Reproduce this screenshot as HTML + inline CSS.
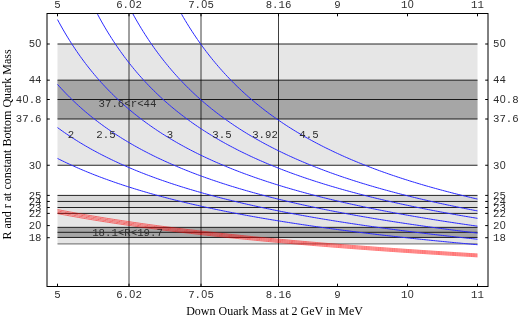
<!DOCTYPE html>
<html><head><meta charset="utf-8"><style>
html,body{margin:0;padding:0;background:#fff;}
svg{display:block}
.m{font-family:"Liberation Mono",monospace;font-size:10.7px;fill:#2e2e2e}
.z{font-family:"Liberation Sans",sans-serif;font-size:10.7px}
.s{font-family:"Liberation Serif",serif;font-size:12px;fill:#000}
</style></head><body>
<svg style="will-change:transform" width="518" height="315" viewBox="0 0 518 315">
<rect width="518" height="315" fill="#fff"/>
<rect x="57.5" y="44.00" width="420.0" height="121.25" fill="#e6e6e6"/>
<rect x="57.5" y="80.15" width="420.0" height="38.85" fill="#a6a6a6"/>
<rect x="57.5" y="195.40" width="420.0" height="48.40" fill="#e5e5e5"/>
<rect x="57.5" y="195.40" width="420.0" height="6.05" fill="#d8d8d8"/>
<rect x="57.5" y="201.45" width="420.0" height="6.05" fill="#dddddd"/>
<rect x="57.5" y="207.50" width="420.0" height="5.90" fill="#e1e1e1"/>
<rect x="57.5" y="227.35" width="420.0" height="10.10" fill="#a6a6a6"/>
<line x1="57.5" x2="477.5" y1="44.00" y2="44.00" stroke="#000" stroke-width="0.85"/>
<line x1="57.5" x2="477.5" y1="80.15" y2="80.15" stroke="#000" stroke-width="0.85"/>
<line x1="57.5" x2="477.5" y1="99.50" y2="99.50" stroke="#000" stroke-width="0.85"/>
<line x1="57.5" x2="477.5" y1="119.00" y2="119.00" stroke="#000" stroke-width="0.85"/>
<line x1="57.5" x2="477.5" y1="165.25" y2="165.25" stroke="#000" stroke-width="0.85"/>
<line x1="57.5" x2="477.5" y1="195.40" y2="195.40" stroke="#000" stroke-width="0.85"/>
<line x1="57.5" x2="477.5" y1="201.45" y2="201.45" stroke="#000" stroke-width="0.85"/>
<line x1="57.5" x2="477.5" y1="207.50" y2="207.50" stroke="#000" stroke-width="0.85"/>
<line x1="57.5" x2="477.5" y1="213.40" y2="213.40" stroke="#000" stroke-width="0.85"/>
<line x1="57.5" x2="477.5" y1="227.35" y2="227.35" stroke="#000" stroke-width="0.85"/>
<line x1="57.5" x2="477.5" y1="232.30" y2="232.30" stroke="#000" stroke-width="0.85"/>
<line x1="57.5" x2="477.5" y1="237.45" y2="237.45" stroke="#000" stroke-width="0.85"/>
<line x1="57.5" x2="477.5" y1="243.80" y2="243.80" stroke="#808080" stroke-width="1.2"/>
<line x1="129.00" x2="129.00" y1="13.5" y2="286.5" stroke="#000" stroke-width="0.75"/>
<line x1="201.00" x2="201.00" y1="13.5" y2="286.5" stroke="#000" stroke-width="0.75"/>
<line x1="278.50" x2="278.50" y1="13.5" y2="286.5" stroke="#000" stroke-width="0.75"/>
<path d="M57.50 158.45 L59.25 159.33 L61.00 160.19 L62.75 161.04 L64.50 161.89 L66.25 162.72 L68.00 163.54 L69.75 164.35 L71.50 165.16 L73.25 165.95 L75.00 166.73 L76.75 167.51 L78.50 168.27 L80.25 169.03 L82.00 169.77 L83.75 170.51 L85.50 171.24 L87.25 171.96 L89.00 172.67 L90.75 173.38 L92.50 174.08 L94.25 174.77 L96.00 175.45 L97.75 176.12 L99.50 176.79 L101.25 177.45 L103.00 178.10 L104.75 178.75 L106.50 179.39 L108.25 180.02 L110.00 180.64 L111.75 181.26 L113.50 181.87 L115.25 182.48 L117.00 183.08 L118.75 183.68 L120.50 184.26 L122.25 184.85 L124.00 185.42 L125.75 185.99 L127.50 186.56 L129.25 187.12 L131.00 187.67 L132.75 188.22 L134.50 188.76 L136.25 189.30 L138.00 189.83 L139.75 190.36 L141.50 190.88 L143.25 191.40 L145.00 191.92 L146.75 192.42 L148.50 192.93 L150.25 193.43 L152.00 193.92 L153.75 194.41 L155.50 194.90 L157.25 195.38 L159.00 195.86 L160.75 196.33 L162.50 196.80 L164.25 197.27 L166.00 197.73 L167.75 198.18 L169.50 198.64 L171.25 199.08 L173.00 199.53 L174.75 199.97 L176.50 200.41 L178.25 200.84 L180.00 201.27 L181.75 201.70 L183.50 202.12 L185.25 202.54 L187.00 202.96 L188.75 203.37 L190.50 203.78 L192.25 204.19 L194.00 204.59 L195.75 204.99 L197.50 205.39 L199.25 205.78 L201.00 206.17 L202.75 206.56 L204.50 206.95 L206.25 207.33 L208.00 207.71 L209.75 208.08 L211.50 208.45 L213.25 208.82 L215.00 209.19 L216.75 209.56 L218.50 209.92 L220.25 210.28 L222.00 210.63 L223.75 210.99 L225.50 211.34 L227.25 211.69 L229.00 212.03 L230.75 212.38 L232.50 212.72 L234.25 213.06 L236.00 213.39 L237.75 213.73 L239.50 214.06 L241.25 214.39 L243.00 214.71 L244.75 215.04 L246.50 215.36 L248.25 215.68 L250.00 216.00 L251.75 216.31 L253.50 216.63 L255.25 216.94 L257.00 217.25 L258.75 217.56 L260.50 217.86 L262.25 218.16 L264.00 218.47 L265.75 218.76 L267.50 219.06 L269.25 219.36 L271.00 219.65 L272.75 219.94 L274.50 220.23 L276.25 220.52 L278.00 220.80 L279.75 221.09 L281.50 221.37 L283.25 221.65 L285.00 221.93 L286.75 222.20 L288.50 222.48 L290.25 222.75 L292.00 223.02 L293.75 223.29 L295.50 223.56 L297.25 223.83 L299.00 224.09 L300.75 224.36 L302.50 224.62 L304.25 224.88 L306.00 225.14 L307.75 225.39 L309.50 225.65 L311.25 225.90 L313.00 226.16 L314.75 226.41 L316.50 226.66 L318.25 226.90 L320.00 227.15 L321.75 227.39 L323.50 227.64 L325.25 227.88 L327.00 228.12 L328.75 228.36 L330.50 228.60 L332.25 228.83 L334.00 229.07 L335.75 229.30 L337.50 229.54 L339.25 229.77 L341.00 230.00 L342.75 230.23 L344.50 230.45 L346.25 230.68 L348.00 230.90 L349.75 231.13 L351.50 231.35 L353.25 231.57 L355.00 231.79 L356.75 232.01 L358.50 232.23 L360.25 232.44 L362.00 232.66 L363.75 232.87 L365.50 233.09 L367.25 233.30 L369.00 233.51 L370.75 233.72 L372.50 233.93 L374.25 234.14 L376.00 234.34 L377.75 234.55 L379.50 234.75 L381.25 234.95 L383.00 235.16 L384.75 235.36 L386.50 235.56 L388.25 235.76 L390.00 235.95 L391.75 236.15 L393.50 236.35 L395.25 236.54 L397.00 236.74 L398.75 236.93 L400.50 237.12 L402.25 237.31 L404.00 237.50 L405.75 237.69 L407.50 237.88 L409.25 238.07 L411.00 238.25 L412.75 238.44 L414.50 238.62 L416.25 238.81 L418.00 238.99 L419.75 239.17 L421.50 239.35 L423.25 239.53 L425.00 239.71 L426.75 239.89 L428.50 240.07 L430.25 240.24 L432.00 240.42 L433.75 240.59 L435.50 240.77 L437.25 240.94 L439.00 241.11 L440.75 241.29 L442.50 241.46 L444.25 241.63 L446.00 241.80 L447.75 241.97 L449.50 242.13 L451.25 242.30 L453.00 242.47 L454.75 242.63 L456.50 242.80 L458.25 242.96 L460.00 243.12 L461.75 243.29 L463.50 243.45 L465.25 243.61 L467.00 243.77 L468.75 243.93 L470.50 244.09 L472.25 244.25 L474.00 244.40 L475.75 244.56 L477.50 244.72" fill="none" stroke="#2a2aff" stroke-width="1"/>
<path d="M57.50 127.59 L59.25 128.86 L61.00 130.12 L62.75 131.36 L64.50 132.58 L66.25 133.78 L68.00 134.96 L69.75 136.12 L71.50 137.27 L73.25 138.40 L75.00 139.52 L76.75 140.62 L78.50 141.70 L80.25 142.77 L82.00 143.82 L83.75 144.86 L85.50 145.89 L87.25 146.90 L89.00 147.90 L90.75 148.88 L92.50 149.86 L94.25 150.81 L96.00 151.76 L97.75 152.69 L99.50 153.62 L101.25 154.53 L103.00 155.43 L104.75 156.31 L106.50 157.19 L108.25 158.06 L110.00 158.91 L111.75 159.76 L113.50 160.59 L115.25 161.42 L117.00 162.23 L118.75 163.04 L120.50 163.83 L122.25 164.62 L124.00 165.40 L125.75 166.16 L127.50 166.92 L129.25 167.67 L131.00 168.42 L132.75 169.15 L134.50 169.88 L136.25 170.59 L138.00 171.30 L139.75 172.01 L141.50 172.70 L143.25 173.39 L145.00 174.07 L146.75 174.74 L148.50 175.41 L150.25 176.06 L152.00 176.72 L153.75 177.36 L155.50 178.00 L157.25 178.63 L159.00 179.26 L160.75 179.87 L162.50 180.49 L164.25 181.09 L166.00 181.69 L167.75 182.29 L169.50 182.88 L171.25 183.46 L173.00 184.04 L174.75 184.61 L176.50 185.17 L178.25 185.73 L180.00 186.29 L181.75 186.84 L183.50 187.38 L185.25 187.92 L187.00 188.46 L188.75 188.99 L190.50 189.51 L192.25 190.03 L194.00 190.55 L195.75 191.06 L197.50 191.57 L199.25 192.07 L201.00 192.56 L202.75 193.06 L204.50 193.55 L206.25 194.03 L208.00 194.51 L209.75 194.99 L211.50 195.46 L213.25 195.93 L215.00 196.39 L216.75 196.85 L218.50 197.30 L220.25 197.76 L222.00 198.20 L223.75 198.65 L225.50 199.09 L227.25 199.53 L229.00 199.96 L230.75 200.39 L232.50 200.82 L234.25 201.24 L236.00 201.66 L237.75 202.08 L239.50 202.49 L241.25 202.90 L243.00 203.31 L244.75 203.71 L246.50 204.11 L248.25 204.51 L250.00 204.90 L251.75 205.29 L253.50 205.68 L255.25 206.07 L257.00 206.45 L258.75 206.83 L260.50 207.20 L262.25 207.58 L264.00 207.95 L265.75 208.32 L267.50 208.68 L269.25 209.04 L271.00 209.40 L272.75 209.76 L274.50 210.12 L276.25 210.47 L278.00 210.82 L279.75 211.17 L281.50 211.51 L283.25 211.85 L285.00 212.19 L286.75 212.53 L288.50 212.86 L290.25 213.20 L292.00 213.53 L293.75 213.86 L295.50 214.18 L297.25 214.51 L299.00 214.83 L300.75 215.15 L302.50 215.46 L304.25 215.78 L306.00 216.09 L307.75 216.40 L309.50 216.71 L311.25 217.02 L313.00 217.32 L314.75 217.63 L316.50 217.93 L318.25 218.23 L320.00 218.52 L321.75 218.82 L323.50 219.11 L325.25 219.40 L327.00 219.69 L328.75 219.98 L330.50 220.26 L332.25 220.55 L334.00 220.83 L335.75 221.11 L337.50 221.39 L339.25 221.66 L341.00 221.94 L342.75 222.21 L344.50 222.48 L346.25 222.75 L348.00 223.02 L349.75 223.29 L351.50 223.55 L353.25 223.82 L355.00 224.08 L356.75 224.34 L358.50 224.60 L360.25 224.86 L362.00 225.11 L363.75 225.37 L365.50 225.62 L367.25 225.87 L369.00 226.12 L370.75 226.37 L372.50 226.61 L374.25 226.86 L376.00 227.10 L377.75 227.35 L379.50 227.59 L381.25 227.83 L383.00 228.07 L384.75 228.30 L386.50 228.54 L388.25 228.77 L390.00 229.01 L391.75 229.24 L393.50 229.47 L395.25 229.70 L397.00 229.93 L398.75 230.15 L400.50 230.38 L402.25 230.60 L404.00 230.83 L405.75 231.05 L407.50 231.27 L409.25 231.49 L411.00 231.71 L412.75 231.92 L414.50 232.14 L416.25 232.36 L418.00 232.57 L419.75 232.78 L421.50 232.99 L423.25 233.20 L425.00 233.41 L426.75 233.62 L428.50 233.83 L430.25 234.03 L432.00 234.24 L433.75 234.44 L435.50 234.65 L437.25 234.85 L439.00 235.05 L440.75 235.25 L442.50 235.45 L444.25 235.65 L446.00 235.84 L447.75 236.04 L449.50 236.23 L451.25 236.43 L453.00 236.62 L454.75 236.81 L456.50 237.00 L458.25 237.19 L460.00 237.38 L461.75 237.57 L463.50 237.76 L465.25 237.94 L467.00 238.13 L468.75 238.31 L470.50 238.50 L472.25 238.68 L474.00 238.86 L475.75 239.04 L477.50 239.22" fill="none" stroke="#2a2aff" stroke-width="1"/>
<path d="M57.50 84.38 L59.25 86.34 L61.00 88.26 L62.75 90.14 L64.50 91.99 L66.25 93.80 L68.00 95.59 L69.75 97.34 L71.50 99.06 L73.25 100.75 L75.00 102.41 L76.75 104.04 L78.50 105.64 L80.25 107.22 L82.00 108.77 L83.75 110.30 L85.50 111.80 L87.25 113.27 L89.00 114.73 L90.75 116.15 L92.50 117.56 L94.25 118.94 L96.00 120.31 L97.75 121.65 L99.50 122.97 L101.25 124.27 L103.00 125.55 L104.75 126.82 L106.50 128.06 L108.25 129.29 L110.00 130.50 L111.75 131.69 L113.50 132.86 L115.25 134.02 L117.00 135.16 L118.75 136.28 L120.50 137.39 L122.25 138.49 L124.00 139.57 L125.75 140.63 L127.50 141.68 L129.25 142.72 L131.00 143.74 L132.75 144.75 L134.50 145.75 L136.25 146.73 L138.00 147.70 L139.75 148.66 L141.50 149.60 L143.25 150.54 L145.00 151.46 L146.75 152.37 L148.50 153.27 L150.25 154.16 L152.00 155.04 L153.75 155.91 L155.50 156.76 L157.25 157.61 L159.00 158.45 L160.75 159.28 L162.50 160.09 L164.25 160.90 L166.00 161.70 L167.75 162.49 L169.50 163.27 L171.25 164.04 L173.00 164.81 L174.75 165.56 L176.50 166.31 L178.25 167.05 L180.00 167.78 L181.75 168.50 L183.50 169.22 L185.25 169.92 L187.00 170.62 L188.75 171.32 L190.50 172.00 L192.25 172.68 L194.00 173.35 L195.75 174.01 L197.50 174.67 L199.25 175.32 L201.00 175.96 L202.75 176.60 L204.50 177.23 L206.25 177.86 L208.00 178.48 L209.75 179.09 L211.50 179.70 L213.25 180.30 L215.00 180.89 L216.75 181.48 L218.50 182.06 L220.25 182.64 L222.00 183.21 L223.75 183.78 L225.50 184.34 L227.25 184.90 L229.00 185.45 L230.75 186.00 L232.50 186.54 L234.25 187.07 L236.00 187.60 L237.75 188.13 L239.50 188.65 L241.25 189.17 L243.00 189.68 L244.75 190.19 L246.50 190.70 L248.25 191.19 L250.00 191.69 L251.75 192.18 L253.50 192.67 L255.25 193.15 L257.00 193.63 L258.75 194.10 L260.50 194.57 L262.25 195.04 L264.00 195.50 L265.75 195.96 L267.50 196.41 L269.25 196.86 L271.00 197.31 L272.75 197.76 L274.50 198.20 L276.25 198.63 L278.00 199.07 L279.75 199.50 L281.50 199.92 L283.25 200.34 L285.00 200.76 L286.75 201.18 L288.50 201.59 L290.25 202.00 L292.00 202.41 L293.75 202.81 L295.50 203.21 L297.25 203.61 L299.00 204.00 L300.75 204.40 L302.50 204.78 L304.25 205.17 L306.00 205.55 L307.75 205.93 L309.50 206.31 L311.25 206.68 L313.00 207.05 L314.75 207.42 L316.50 207.79 L318.25 208.15 L320.00 208.51 L321.75 208.87 L323.50 209.23 L325.25 209.58 L327.00 209.93 L328.75 210.28 L330.50 210.63 L332.25 210.97 L334.00 211.31 L335.75 211.65 L337.50 211.98 L339.25 212.32 L341.00 212.65 L342.75 212.98 L344.50 213.31 L346.25 213.63 L348.00 213.95 L349.75 214.28 L351.50 214.59 L353.25 214.91 L355.00 215.22 L356.75 215.54 L358.50 215.85 L360.25 216.16 L362.00 216.46 L363.75 216.77 L365.50 217.07 L367.25 217.37 L369.00 217.67 L370.75 217.96 L372.50 218.26 L374.25 218.55 L376.00 218.84 L377.75 219.13 L379.50 219.42 L381.25 219.70 L383.00 219.99 L384.75 220.27 L386.50 220.55 L388.25 220.83 L390.00 221.10 L391.75 221.38 L393.50 221.65 L395.25 221.92 L397.00 222.19 L398.75 222.46 L400.50 222.73 L402.25 222.99 L404.00 223.26 L405.75 223.52 L407.50 223.78 L409.25 224.04 L411.00 224.30 L412.75 224.55 L414.50 224.81 L416.25 225.06 L418.00 225.31 L419.75 225.56 L421.50 225.81 L423.25 226.06 L425.00 226.30 L426.75 226.55 L428.50 226.79 L430.25 227.03 L432.00 227.27 L433.75 227.51 L435.50 227.75 L437.25 227.99 L439.00 228.22 L440.75 228.45 L442.50 228.69 L444.25 228.92 L446.00 229.15 L447.75 229.38 L449.50 229.60 L451.25 229.83 L453.00 230.05 L454.75 230.28 L456.50 230.50 L458.25 230.72 L460.00 230.94 L461.75 231.16 L463.50 231.38 L465.25 231.60 L467.00 231.81 L468.75 232.03 L470.50 232.24 L472.25 232.45 L474.00 232.66 L475.75 232.87 L477.50 233.08" fill="none" stroke="#2a2aff" stroke-width="1"/>
<path d="M57.50 19.57 L59.25 22.81 L61.00 25.97 L62.75 29.06 L64.50 32.08 L66.25 35.02 L68.00 37.90 L69.75 40.72 L71.50 43.47 L73.25 46.17 L75.00 48.80 L76.75 51.38 L78.50 53.91 L80.25 56.38 L82.00 58.80 L83.75 61.18 L85.50 63.50 L87.25 65.78 L89.00 68.01 L90.75 70.20 L92.50 72.35 L94.25 74.45 L96.00 76.52 L97.75 78.55 L99.50 80.54 L101.25 82.49 L103.00 84.41 L104.75 86.29 L106.50 88.14 L108.25 89.96 L110.00 91.74 L111.75 93.50 L113.50 95.22 L115.25 96.92 L117.00 98.59 L118.75 100.22 L120.50 101.84 L122.25 103.42 L124.00 104.98 L125.75 106.51 L127.50 108.02 L129.25 109.51 L131.00 110.97 L132.75 112.41 L134.50 113.83 L136.25 115.23 L138.00 116.60 L139.75 117.95 L141.50 119.29 L143.25 120.60 L145.00 121.90 L146.75 123.17 L148.50 124.43 L150.25 125.67 L152.00 126.89 L153.75 128.10 L155.50 129.29 L157.25 130.46 L159.00 131.61 L160.75 132.75 L162.50 133.88 L164.25 134.98 L166.00 136.08 L167.75 137.16 L169.50 138.22 L171.25 139.28 L173.00 140.31 L174.75 141.34 L176.50 142.35 L178.25 143.35 L180.00 144.33 L181.75 145.31 L183.50 146.27 L185.25 147.22 L187.00 148.16 L188.75 149.08 L190.50 150.00 L192.25 150.90 L194.00 151.80 L195.75 152.68 L197.50 153.55 L199.25 154.41 L201.00 155.27 L202.75 156.11 L204.50 156.94 L206.25 157.77 L208.00 158.58 L209.75 159.38 L211.50 160.18 L213.25 160.97 L215.00 161.75 L216.75 162.52 L218.50 163.28 L220.25 164.03 L222.00 164.78 L223.75 165.51 L225.50 166.24 L227.25 166.96 L229.00 167.68 L230.75 168.38 L232.50 169.08 L234.25 169.77 L236.00 170.46 L237.75 171.14 L239.50 171.81 L241.25 172.47 L243.00 173.13 L244.75 173.78 L246.50 174.43 L248.25 175.06 L250.00 175.70 L251.75 176.32 L253.50 176.94 L255.25 177.56 L257.00 178.16 L258.75 178.77 L260.50 179.36 L262.25 179.95 L264.00 180.54 L265.75 181.12 L267.50 181.69 L269.25 182.26 L271.00 182.83 L272.75 183.38 L274.50 183.94 L276.25 184.49 L278.00 185.03 L279.75 185.57 L281.50 186.10 L283.25 186.63 L285.00 187.16 L286.75 187.68 L288.50 188.19 L290.25 188.70 L292.00 189.21 L293.75 189.71 L295.50 190.21 L297.25 190.71 L299.00 191.20 L300.75 191.68 L302.50 192.16 L304.25 192.64 L306.00 193.11 L307.75 193.58 L309.50 194.05 L311.25 194.51 L313.00 194.97 L314.75 195.42 L316.50 195.87 L318.25 196.32 L320.00 196.77 L321.75 197.21 L323.50 197.64 L325.25 198.08 L327.00 198.50 L328.75 198.93 L330.50 199.35 L332.25 199.77 L334.00 200.19 L335.75 200.60 L337.50 201.01 L339.25 201.42 L341.00 201.83 L342.75 202.23 L344.50 202.63 L346.25 203.02 L348.00 203.41 L349.75 203.80 L351.50 204.19 L353.25 204.57 L355.00 204.95 L356.75 205.33 L358.50 205.71 L360.25 206.08 L362.00 206.45 L363.75 206.82 L365.50 207.18 L367.25 207.54 L369.00 207.90 L370.75 208.26 L372.50 208.61 L374.25 208.97 L376.00 209.32 L377.75 209.66 L379.50 210.01 L381.25 210.35 L383.00 210.69 L384.75 211.03 L386.50 211.36 L388.25 211.70 L390.00 212.03 L391.75 212.36 L393.50 212.68 L395.25 213.01 L397.00 213.33 L398.75 213.65 L400.50 213.97 L402.25 214.28 L404.00 214.60 L405.75 214.91 L407.50 215.22 L409.25 215.53 L411.00 215.83 L412.75 216.14 L414.50 216.44 L416.25 216.74 L418.00 217.04 L419.75 217.33 L421.50 217.63 L423.25 217.92 L425.00 218.21 L426.75 218.50 L428.50 218.79 L430.25 219.07 L432.00 219.36 L433.75 219.64 L435.50 219.92 L437.25 220.20 L439.00 220.48 L440.75 220.75 L442.50 221.02 L444.25 221.30 L446.00 221.57 L447.75 221.84 L449.50 222.10 L451.25 222.37 L453.00 222.63 L454.75 222.89 L456.50 223.16 L458.25 223.42 L460.00 223.67 L461.75 223.93 L463.50 224.18 L465.25 224.44 L467.00 224.69 L468.75 224.94 L470.50 225.19 L472.25 225.44 L474.00 225.68 L475.75 225.93 L477.50 226.17" fill="none" stroke="#2a2aff" stroke-width="1"/>
<path d="M97.13 13.50 L97.75 14.67 L99.50 17.90 L101.25 21.05 L103.00 24.13 L104.75 27.14 L106.50 30.08 L108.25 32.96 L110.00 35.77 L111.75 38.53 L113.50 41.22 L115.25 43.86 L117.00 46.45 L118.75 48.98 L120.50 51.46 L122.25 53.89 L124.00 56.28 L125.75 58.61 L127.50 60.90 L129.25 63.15 L131.00 65.35 L132.75 67.52 L134.50 69.64 L136.25 71.72 L138.00 73.77 L139.75 75.77 L141.50 77.74 L143.25 79.68 L145.00 81.58 L146.75 83.45 L148.50 85.29 L150.25 87.10 L152.00 88.87 L153.75 90.61 L155.50 92.33 L157.25 94.02 L159.00 95.68 L160.75 97.31 L162.50 98.92 L164.25 100.50 L166.00 102.06 L167.75 103.59 L169.50 105.10 L171.25 106.58 L173.00 108.04 L174.75 109.48 L176.50 110.90 L178.25 112.30 L180.00 113.67 L181.75 115.03 L183.50 116.37 L185.25 117.68 L187.00 118.98 L188.75 120.26 L190.50 121.52 L192.25 122.77 L194.00 124.00 L195.75 125.21 L197.50 126.40 L199.25 127.58 L201.00 128.74 L202.75 129.88 L204.50 131.01 L206.25 132.13 L208.00 133.23 L209.75 134.32 L211.50 135.39 L213.25 136.45 L215.00 137.50 L216.75 138.53 L218.50 139.55 L220.25 140.55 L222.00 141.55 L223.75 142.53 L225.50 143.50 L227.25 144.46 L229.00 145.41 L230.75 146.34 L232.50 147.27 L234.25 148.18 L236.00 149.08 L237.75 149.97 L239.50 150.86 L241.25 151.73 L243.00 152.59 L244.75 153.44 L246.50 154.28 L248.25 155.12 L250.00 155.94 L251.75 156.75 L253.50 157.56 L255.25 158.36 L257.00 159.15 L258.75 159.93 L260.50 160.70 L262.25 161.46 L264.00 162.21 L265.75 162.96 L267.50 163.70 L269.25 164.43 L271.00 165.16 L272.75 165.87 L274.50 166.58 L276.25 167.28 L278.00 167.98 L279.75 168.67 L281.50 169.35 L283.25 170.02 L285.00 170.69 L286.75 171.35 L288.50 172.00 L290.25 172.65 L292.00 173.29 L293.75 173.93 L295.50 174.56 L297.25 175.18 L299.00 175.80 L300.75 176.41 L302.50 177.02 L304.25 177.62 L306.00 178.21 L307.75 178.80 L309.50 179.38 L311.25 179.96 L313.00 180.54 L314.75 181.10 L316.50 181.67 L318.25 182.23 L320.00 182.78 L321.75 183.33 L323.50 183.87 L325.25 184.41 L327.00 184.94 L328.75 185.47 L330.50 186.00 L332.25 186.52 L334.00 187.03 L335.75 187.54 L337.50 188.05 L339.25 188.55 L341.00 189.05 L342.75 189.55 L344.50 190.04 L346.25 190.52 L348.00 191.00 L349.75 191.48 L351.50 191.96 L353.25 192.43 L355.00 192.89 L356.75 193.36 L358.50 193.82 L360.25 194.27 L362.00 194.72 L363.75 195.17 L365.50 195.62 L367.25 196.06 L369.00 196.50 L370.75 196.93 L372.50 197.36 L374.25 197.79 L376.00 198.22 L377.75 198.64 L379.50 199.05 L381.25 199.47 L383.00 199.88 L384.75 200.29 L386.50 200.70 L388.25 201.10 L390.00 201.50 L391.75 201.90 L393.50 202.29 L395.25 202.68 L397.00 203.07 L398.75 203.46 L400.50 203.84 L402.25 204.22 L404.00 204.60 L405.75 204.97 L407.50 205.34 L409.25 205.71 L411.00 206.08 L412.75 206.44 L414.50 206.80 L416.25 207.16 L418.00 207.52 L419.75 207.87 L421.50 208.23 L423.25 208.58 L425.00 208.92 L426.75 209.27 L428.50 209.61 L430.25 209.95 L432.00 210.29 L433.75 210.62 L435.50 210.96 L437.25 211.29 L439.00 211.62 L440.75 211.94 L442.50 212.27 L444.25 212.59 L446.00 212.91 L447.75 213.23 L449.50 213.54 L451.25 213.86 L453.00 214.17 L454.75 214.48 L456.50 214.79 L458.25 215.10 L460.00 215.40 L461.75 215.70 L463.50 216.00 L465.25 216.30 L467.00 216.60 L468.75 216.89 L470.50 217.19 L472.25 217.48 L474.00 217.77 L475.75 218.06 L477.50 218.34" fill="none" stroke="#2a2aff" stroke-width="1"/>
<path d="M132.64 13.50 L132.75 13.70 L134.50 16.85 L136.25 19.93 L138.00 22.94 L139.75 25.89 L141.50 28.77 L143.25 31.59 L145.00 34.35 L146.75 37.05 L148.50 39.70 L150.25 42.30 L152.00 44.84 L153.75 47.33 L155.50 49.77 L157.25 52.17 L159.00 54.52 L160.75 56.82 L162.50 59.08 L164.25 61.30 L166.00 63.48 L167.75 65.62 L169.50 67.71 L171.25 69.77 L173.00 71.80 L174.75 73.79 L176.50 75.74 L178.25 77.66 L180.00 79.55 L181.75 81.40 L183.50 83.22 L185.25 85.02 L187.00 86.78 L188.75 88.52 L190.50 90.22 L192.25 91.90 L194.00 93.55 L195.75 95.18 L197.50 96.78 L199.25 98.35 L201.00 99.90 L202.75 101.43 L204.50 102.93 L206.25 104.41 L208.00 105.87 L209.75 107.31 L211.50 108.73 L213.25 110.12 L215.00 111.50 L216.75 112.85 L218.50 114.19 L220.25 115.51 L222.00 116.80 L223.75 118.08 L225.50 119.35 L227.25 120.59 L229.00 121.82 L230.75 123.03 L232.50 124.23 L234.25 125.41 L236.00 126.57 L237.75 127.72 L239.50 128.85 L241.25 129.97 L243.00 131.08 L244.75 132.17 L246.50 133.25 L248.25 134.31 L250.00 135.36 L251.75 136.40 L253.50 137.42 L255.25 138.43 L257.00 139.43 L258.75 140.42 L260.50 141.39 L262.25 142.36 L264.00 143.31 L265.75 144.25 L267.50 145.18 L269.25 146.10 L271.00 147.01 L272.75 147.90 L274.50 148.79 L276.25 149.67 L278.00 150.54 L279.75 151.40 L281.50 152.24 L283.25 153.08 L285.00 153.91 L286.75 154.73 L288.50 155.55 L290.25 156.35 L292.00 157.14 L293.75 157.93 L295.50 158.71 L297.25 159.48 L299.00 160.24 L300.75 160.99 L302.50 161.74 L304.25 162.48 L306.00 163.21 L307.75 163.93 L309.50 164.65 L311.25 165.35 L313.00 166.06 L314.75 166.75 L316.50 167.44 L318.25 168.12 L320.00 168.79 L321.75 169.46 L323.50 170.12 L325.25 170.78 L327.00 171.42 L328.75 172.07 L330.50 172.70 L332.25 173.33 L334.00 173.96 L335.75 174.58 L337.50 175.19 L339.25 175.80 L341.00 176.40 L342.75 176.99 L344.50 177.58 L346.25 178.17 L348.00 178.75 L349.75 179.32 L351.50 179.89 L353.25 180.46 L355.00 181.02 L356.75 181.57 L358.50 182.12 L360.25 182.67 L362.00 183.21 L363.75 183.74 L365.50 184.27 L367.25 184.80 L369.00 185.32 L370.75 185.84 L372.50 186.35 L374.25 186.86 L376.00 187.37 L377.75 187.87 L379.50 188.36 L381.25 188.86 L383.00 189.35 L384.75 189.83 L386.50 190.31 L388.25 190.79 L390.00 191.26 L391.75 191.73 L393.50 192.20 L395.25 192.66 L397.00 193.11 L398.75 193.57 L400.50 194.02 L402.25 194.47 L404.00 194.91 L405.75 195.35 L407.50 195.79 L409.25 196.22 L411.00 196.65 L412.75 197.08 L414.50 197.51 L416.25 197.93 L418.00 198.34 L419.75 198.76 L421.50 199.17 L423.25 199.58 L425.00 199.98 L426.75 200.39 L428.50 200.79 L430.25 201.18 L432.00 201.58 L433.75 201.97 L435.50 202.36 L437.25 202.74 L439.00 203.13 L440.75 203.51 L442.50 203.88 L444.25 204.26 L446.00 204.63 L447.75 205.00 L449.50 205.37 L451.25 205.73 L453.00 206.09 L454.75 206.45 L456.50 206.81 L458.25 207.16 L460.00 207.52 L461.75 207.87 L463.50 208.21 L465.25 208.56 L467.00 208.90 L468.75 209.24 L470.50 209.58 L472.25 209.92 L474.00 210.25 L475.75 210.58 L477.50 210.91" fill="none" stroke="#2a2aff" stroke-width="1"/>
<path d="M181.15 13.50 L181.75 14.55 L183.50 17.56 L185.25 20.51 L187.00 23.39 L188.75 26.22 L190.50 28.98 L192.25 31.69 L194.00 34.35 L195.75 36.96 L197.50 39.51 L199.25 42.01 L201.00 44.47 L202.75 46.88 L204.50 49.24 L206.25 51.56 L208.00 53.84 L209.75 56.07 L211.50 58.27 L213.25 60.42 L215.00 62.54 L216.75 64.62 L218.50 66.66 L220.25 68.67 L222.00 70.64 L223.75 72.58 L225.50 74.49 L227.25 76.37 L229.00 78.21 L230.75 80.03 L232.50 81.81 L234.25 83.57 L236.00 85.30 L237.75 87.00 L239.50 88.67 L241.25 90.32 L243.00 91.94 L244.75 93.54 L246.50 95.12 L248.25 96.66 L250.00 98.19 L251.75 99.70 L253.50 101.18 L255.25 102.64 L257.00 104.08 L258.75 105.50 L260.50 106.89 L262.25 108.27 L264.00 109.63 L265.75 110.97 L267.50 112.29 L269.25 113.60 L271.00 114.88 L272.75 116.15 L274.50 117.40 L276.25 118.64 L278.00 119.86 L279.75 121.06 L281.50 122.24 L283.25 123.42 L285.00 124.57 L286.75 125.71 L288.50 126.84 L290.25 127.95 L292.00 129.05 L293.75 130.14 L295.50 131.21 L297.25 132.27 L299.00 133.31 L300.75 134.34 L302.50 135.36 L304.25 136.37 L306.00 137.37 L307.75 138.35 L309.50 139.33 L311.25 140.29 L313.00 141.24 L314.75 142.18 L316.50 143.11 L318.25 144.02 L320.00 144.93 L321.75 145.83 L323.50 146.72 L325.25 147.60 L327.00 148.46 L328.75 149.32 L330.50 150.17 L332.25 151.01 L334.00 151.84 L335.75 152.67 L337.50 153.48 L339.25 154.28 L341.00 155.08 L342.75 155.87 L344.50 156.65 L346.25 157.42 L348.00 158.18 L349.75 158.94 L351.50 159.69 L353.25 160.43 L355.00 161.16 L356.75 161.89 L358.50 162.61 L360.25 163.32 L362.00 164.02 L363.75 164.72 L365.50 165.41 L367.25 166.10 L369.00 166.77 L370.75 167.45 L372.50 168.11 L374.25 168.77 L376.00 169.42 L377.75 170.07 L379.50 170.71 L381.25 171.34 L383.00 171.97 L384.75 172.59 L386.50 173.21 L388.25 173.82 L390.00 174.43 L391.75 175.03 L393.50 175.62 L395.25 176.21 L397.00 176.80 L398.75 177.38 L400.50 177.95 L402.25 178.52 L404.00 179.09 L405.75 179.65 L407.50 180.20 L409.25 180.75 L411.00 181.30 L412.75 181.84 L414.50 182.37 L416.25 182.90 L418.00 183.43 L419.75 183.95 L421.50 184.47 L423.25 184.99 L425.00 185.50 L426.75 186.00 L428.50 186.50 L430.25 187.00 L432.00 187.49 L433.75 187.98 L435.50 188.47 L437.25 188.95 L439.00 189.43 L440.75 189.90 L442.50 190.37 L444.25 190.84 L446.00 191.30 L447.75 191.76 L449.50 192.22 L451.25 192.67 L453.00 193.12 L454.75 193.57 L456.50 194.01 L458.25 194.45 L460.00 194.88 L461.75 195.32 L463.50 195.75 L465.25 196.17 L467.00 196.60 L468.75 197.02 L470.50 197.43 L472.25 197.85 L474.00 198.26 L475.75 198.66 L477.50 199.07" fill="none" stroke="#2a2aff" stroke-width="1"/>
<path d="M57.50 209.60 L59.25 209.93 L61.00 210.27 L62.75 210.61 L64.50 210.94 L66.25 211.27 L68.00 211.59 L69.75 211.92 L71.50 212.24 L73.25 212.56 L75.00 212.88 L76.75 213.20 L78.50 213.51 L80.25 213.82 L82.00 214.13 L83.75 214.44 L85.50 214.74 L87.25 215.04 L89.00 215.34 L90.75 215.64 L92.50 215.94 L94.25 216.23 L96.00 216.52 L97.75 216.81 L99.50 217.10 L101.25 217.39 L103.00 217.67 L104.75 217.96 L106.50 218.24 L108.25 218.52 L110.00 218.79 L111.75 219.07 L113.50 219.34 L115.25 219.61 L117.00 219.88 L118.75 220.15 L120.50 220.42 L122.25 220.68 L124.00 220.95 L125.75 221.21 L127.50 221.47 L129.25 221.73 L131.00 221.98 L132.75 222.24 L134.50 222.49 L136.25 222.74 L138.00 222.99 L139.75 223.24 L141.50 223.49 L143.25 223.73 L145.00 223.98 L146.75 224.22 L148.50 224.46 L150.25 224.70 L152.00 224.94 L153.75 225.18 L155.50 225.41 L157.25 225.65 L159.00 225.88 L160.75 226.11 L162.50 226.34 L164.25 226.57 L166.00 226.80 L167.75 227.03 L169.50 227.25 L171.25 227.48 L173.00 227.70 L174.75 227.92 L176.50 228.14 L178.25 228.36 L180.00 228.58 L181.75 228.79 L183.50 229.01 L185.25 229.22 L187.00 229.44 L188.75 229.65 L190.50 229.86 L192.25 230.07 L194.00 230.27 L195.75 230.48 L197.50 230.69 L199.25 230.89 L201.00 231.10 L202.75 231.30 L204.50 231.50 L206.25 231.70 L208.00 231.90 L209.75 232.10 L211.50 232.30 L213.25 232.49 L215.00 232.69 L216.75 232.88 L218.50 233.08 L220.25 233.27 L222.00 233.46 L223.75 233.65 L225.50 233.84 L227.25 234.03 L229.00 234.22 L230.75 234.40 L232.50 234.59 L234.25 234.77 L236.00 234.96 L237.75 235.14 L239.50 235.32 L241.25 235.50 L243.00 235.68 L244.75 235.86 L246.50 236.04 L248.25 236.22 L250.00 236.40 L251.75 236.57 L253.50 236.75 L255.25 236.92 L257.00 237.09 L258.75 237.27 L260.50 237.44 L262.25 237.61 L264.00 237.78 L265.75 237.95 L267.50 238.12 L269.25 238.28 L271.00 238.45 L272.75 238.62 L274.50 238.78 L276.25 238.95 L278.00 239.11 L279.75 239.27 L281.50 239.44 L283.25 239.60 L285.00 239.76 L286.75 239.92 L288.50 240.08 L290.25 240.24 L292.00 240.40 L293.75 240.55 L295.50 240.71 L297.25 240.86 L299.00 241.02 L300.75 241.17 L302.50 241.33 L304.25 241.48 L306.00 241.63 L307.75 241.79 L309.50 241.94 L311.25 242.09 L313.00 242.24 L314.75 242.39 L316.50 242.53 L318.25 242.68 L320.00 242.83 L321.75 242.98 L323.50 243.12 L325.25 243.27 L327.00 243.41 L328.75 243.56 L330.50 243.70 L332.25 243.84 L334.00 243.98 L335.75 244.13 L337.50 244.27 L339.25 244.41 L341.00 244.55 L342.75 244.69 L344.50 244.83 L346.25 244.96 L348.00 245.10 L349.75 245.24 L351.50 245.37 L353.25 245.51 L355.00 245.65 L356.75 245.78 L358.50 245.91 L360.25 246.05 L362.00 246.18 L363.75 246.31 L365.50 246.45 L367.25 246.58 L369.00 246.71 L370.75 246.84 L372.50 246.97 L374.25 247.10 L376.00 247.23 L377.75 247.36 L379.50 247.48 L381.25 247.61 L383.00 247.74 L384.75 247.87 L386.50 247.99 L388.25 248.12 L390.00 248.24 L391.75 248.37 L393.50 248.49 L395.25 248.61 L397.00 248.74 L398.75 248.86 L400.50 248.98 L402.25 249.10 L404.00 249.23 L405.75 249.35 L407.50 249.47 L409.25 249.59 L411.00 249.71 L412.75 249.82 L414.50 249.94 L416.25 250.06 L418.00 250.18 L419.75 250.30 L421.50 250.41 L423.25 250.53 L425.00 250.65 L426.75 250.76 L428.50 250.88 L430.25 250.99 L432.00 251.11 L433.75 251.22 L435.50 251.33 L437.25 251.45 L439.00 251.56 L440.75 251.67 L442.50 251.78 L444.25 251.89 L446.00 252.00 L447.75 252.12 L449.50 252.23 L451.25 252.34 L453.00 252.44 L454.75 252.55 L456.50 252.66 L458.25 252.77 L460.00 252.88 L461.75 252.99 L463.50 253.09 L465.25 253.20 L467.00 253.31 L468.75 253.41 L470.50 253.52 L472.25 253.62 L474.00 253.73 L475.75 253.83 L477.50 253.94" fill="none" stroke="#ff0000" stroke-width="0.55"/>
<path d="M57.50 210.93 L59.25 211.27 L61.00 211.60 L62.75 211.93 L64.50 212.26 L66.25 212.59 L68.00 212.91 L69.75 213.24 L71.50 213.55 L73.25 213.87 L75.00 214.19 L76.75 214.50 L78.50 214.81 L80.25 215.12 L82.00 215.43 L83.75 215.73 L85.50 216.03 L87.25 216.33 L89.00 216.63 L90.75 216.93 L92.50 217.22 L94.25 217.51 L96.00 217.80 L97.75 218.09 L99.50 218.37 L101.25 218.66 L103.00 218.94 L104.75 219.22 L106.50 219.50 L108.25 219.78 L110.00 220.05 L111.75 220.32 L113.50 220.59 L115.25 220.86 L117.00 221.13 L118.75 221.40 L120.50 221.66 L122.25 221.92 L124.00 222.19 L125.75 222.44 L127.50 222.70 L129.25 222.96 L131.00 223.21 L132.75 223.47 L134.50 223.72 L136.25 223.97 L138.00 224.22 L139.75 224.46 L141.50 224.71 L143.25 224.95 L145.00 225.19 L146.75 225.43 L148.50 225.67 L150.25 225.91 L152.00 226.15 L153.75 226.38 L155.50 226.62 L157.25 226.85 L159.00 227.08 L160.75 227.31 L162.50 227.54 L164.25 227.77 L166.00 227.99 L167.75 228.22 L169.50 228.44 L171.25 228.66 L173.00 228.88 L174.75 229.10 L176.50 229.32 L178.25 229.54 L180.00 229.75 L181.75 229.97 L183.50 230.18 L185.25 230.39 L187.00 230.60 L188.75 230.81 L190.50 231.02 L192.25 231.23 L194.00 231.44 L195.75 231.64 L197.50 231.85 L199.25 232.05 L201.00 232.25 L202.75 232.45 L204.50 232.65 L206.25 232.85 L208.00 233.05 L209.75 233.25 L211.50 233.44 L213.25 233.64 L215.00 233.83 L216.75 234.02 L218.50 234.22 L220.25 234.41 L222.00 234.60 L223.75 234.79 L225.50 234.97 L227.25 235.16 L229.00 235.35 L230.75 235.53 L232.50 235.72 L234.25 235.90 L236.00 236.08 L237.75 236.26 L239.50 236.44 L241.25 236.62 L243.00 236.80 L244.75 236.98 L246.50 237.16 L248.25 237.33 L250.00 237.51 L251.75 237.68 L253.50 237.86 L255.25 238.03 L257.00 238.20 L258.75 238.37 L260.50 238.54 L262.25 238.71 L264.00 238.88 L265.75 239.05 L267.50 239.22 L269.25 239.38 L271.00 239.55 L272.75 239.71 L274.50 239.88 L276.25 240.04 L278.00 240.20 L279.75 240.36 L281.50 240.52 L283.25 240.68 L285.00 240.84 L286.75 241.00 L288.50 241.16 L290.25 241.32 L292.00 241.48 L293.75 241.63 L295.50 241.79 L297.25 241.94 L299.00 242.10 L300.75 242.25 L302.50 242.40 L304.25 242.55 L306.00 242.70 L307.75 242.85 L309.50 243.00 L311.25 243.15 L313.00 243.30 L314.75 243.45 L316.50 243.60 L318.25 243.74 L320.00 243.89 L321.75 244.04 L323.50 244.18 L325.25 244.32 L327.00 244.47 L328.75 244.61 L330.50 244.75 L332.25 244.89 L334.00 245.04 L335.75 245.18 L337.50 245.32 L339.25 245.46 L341.00 245.59 L342.75 245.73 L344.50 245.87 L346.25 246.01 L348.00 246.14 L349.75 246.28 L351.50 246.41 L353.25 246.55 L355.00 246.68 L356.75 246.82 L358.50 246.95 L360.25 247.08 L362.00 247.22 L363.75 247.35 L365.50 247.48 L367.25 247.61 L369.00 247.74 L370.75 247.87 L372.50 248.00 L374.25 248.13 L376.00 248.25 L377.75 248.38 L379.50 248.51 L381.25 248.63 L383.00 248.76 L384.75 248.89 L386.50 249.01 L388.25 249.14 L390.00 249.26 L391.75 249.38 L393.50 249.51 L395.25 249.63 L397.00 249.75 L398.75 249.87 L400.50 249.99 L402.25 250.12 L404.00 250.24 L405.75 250.36 L407.50 250.47 L409.25 250.59 L411.00 250.71 L412.75 250.83 L414.50 250.95 L416.25 251.07 L418.00 251.18 L419.75 251.30 L421.50 251.41 L423.25 251.53 L425.00 251.64 L426.75 251.76 L428.50 251.87 L430.25 251.99 L432.00 252.10 L433.75 252.21 L435.50 252.33 L437.25 252.44 L439.00 252.55 L440.75 252.66 L442.50 252.77 L444.25 252.88 L446.00 252.99 L447.75 253.10 L449.50 253.21 L451.25 253.32 L453.00 253.43 L454.75 253.54 L456.50 253.65 L458.25 253.75 L460.00 253.86 L461.75 253.97 L463.50 254.07 L465.25 254.18 L467.00 254.28 L468.75 254.39 L470.50 254.50 L472.25 254.60 L474.00 254.70 L475.75 254.81 L477.50 254.91" fill="none" stroke="#ff0000" stroke-width="0.55"/>
<path d="M57.50 212.27 L59.25 212.60 L61.00 212.93 L62.75 213.26 L64.50 213.59 L66.25 213.91 L68.00 214.23 L69.75 214.55 L71.50 214.87 L73.25 215.18 L75.00 215.50 L76.75 215.81 L78.50 216.11 L80.25 216.42 L82.00 216.72 L83.75 217.02 L85.50 217.32 L87.25 217.62 L89.00 217.92 L90.75 218.21 L92.50 218.50 L94.25 218.79 L96.00 219.08 L97.75 219.36 L99.50 219.65 L101.25 219.93 L103.00 220.21 L104.75 220.49 L106.50 220.76 L108.25 221.04 L110.00 221.31 L111.75 221.58 L113.50 221.85 L115.25 222.11 L117.00 222.38 L118.75 222.64 L120.50 222.91 L122.25 223.17 L124.00 223.43 L125.75 223.68 L127.50 223.94 L129.25 224.19 L131.00 224.44 L132.75 224.70 L134.50 224.94 L136.25 225.19 L138.00 225.44 L139.75 225.68 L141.50 225.93 L143.25 226.17 L145.00 226.41 L146.75 226.65 L148.50 226.88 L150.25 227.12 L152.00 227.36 L153.75 227.59 L155.50 227.82 L157.25 228.05 L159.00 228.28 L160.75 228.51 L162.50 228.73 L164.25 228.96 L166.00 229.18 L167.75 229.41 L169.50 229.63 L171.25 229.85 L173.00 230.07 L174.75 230.28 L176.50 230.50 L178.25 230.72 L180.00 230.93 L181.75 231.14 L183.50 231.35 L185.25 231.56 L187.00 231.77 L188.75 231.98 L190.50 232.19 L192.25 232.40 L194.00 232.60 L195.75 232.80 L197.50 233.01 L199.25 233.21 L201.00 233.41 L202.75 233.61 L204.50 233.81 L206.25 234.00 L208.00 234.20 L209.75 234.39 L211.50 234.59 L213.25 234.78 L215.00 234.97 L216.75 235.17 L218.50 235.36 L220.25 235.55 L222.00 235.73 L223.75 235.92 L225.50 236.11 L227.25 236.29 L229.00 236.48 L230.75 236.66 L232.50 236.84 L234.25 237.03 L236.00 237.21 L237.75 237.39 L239.50 237.56 L241.25 237.74 L243.00 237.92 L244.75 238.10 L246.50 238.27 L248.25 238.45 L250.00 238.62 L251.75 238.79 L253.50 238.97 L255.25 239.14 L257.00 239.31 L258.75 239.48 L260.50 239.65 L262.25 239.81 L264.00 239.98 L265.75 240.15 L267.50 240.31 L269.25 240.48 L271.00 240.64 L272.75 240.81 L274.50 240.97 L276.25 241.13 L278.00 241.29 L279.75 241.45 L281.50 241.61 L283.25 241.77 L285.00 241.93 L286.75 242.09 L288.50 242.24 L290.25 242.40 L292.00 242.56 L293.75 242.71 L295.50 242.86 L297.25 243.02 L299.00 243.17 L300.75 243.32 L302.50 243.47 L304.25 243.62 L306.00 243.77 L307.75 243.92 L309.50 244.07 L311.25 244.22 L313.00 244.37 L314.75 244.51 L316.50 244.66 L318.25 244.81 L320.00 244.95 L321.75 245.09 L323.50 245.24 L325.25 245.38 L327.00 245.52 L328.75 245.67 L330.50 245.81 L332.25 245.95 L334.00 246.09 L335.75 246.23 L337.50 246.37 L339.25 246.50 L341.00 246.64 L342.75 246.78 L344.50 246.91 L346.25 247.05 L348.00 247.19 L349.75 247.32 L351.50 247.46 L353.25 247.59 L355.00 247.72 L356.75 247.85 L358.50 247.99 L360.25 248.12 L362.00 248.25 L363.75 248.38 L365.50 248.51 L367.25 248.64 L369.00 248.77 L370.75 248.90 L372.50 249.03 L374.25 249.15 L376.00 249.28 L377.75 249.41 L379.50 249.53 L381.25 249.66 L383.00 249.78 L384.75 249.91 L386.50 250.03 L388.25 250.15 L390.00 250.28 L391.75 250.40 L393.50 250.52 L395.25 250.64 L397.00 250.77 L398.75 250.89 L400.50 251.01 L402.25 251.13 L404.00 251.25 L405.75 251.36 L407.50 251.48 L409.25 251.60 L411.00 251.72 L412.75 251.84 L414.50 251.95 L416.25 252.07 L418.00 252.18 L419.75 252.30 L421.50 252.41 L423.25 252.53 L425.00 252.64 L426.75 252.76 L428.50 252.87 L430.25 252.98 L432.00 253.10 L433.75 253.21 L435.50 253.32 L437.25 253.43 L439.00 253.54 L440.75 253.65 L442.50 253.76 L444.25 253.87 L446.00 253.98 L447.75 254.09 L449.50 254.20 L451.25 254.31 L453.00 254.41 L454.75 254.52 L456.50 254.63 L458.25 254.74 L460.00 254.84 L461.75 254.95 L463.50 255.05 L465.25 255.16 L467.00 255.26 L468.75 255.37 L470.50 255.47 L472.25 255.58 L474.00 255.68 L475.75 255.78 L477.50 255.88" fill="none" stroke="#ff0000" stroke-width="0.55"/>
<path d="M57.50 213.60 L59.25 213.93 L61.00 214.26 L62.75 214.59 L64.50 214.91 L66.25 215.23 L68.00 215.55 L69.75 215.87 L71.50 216.18 L73.25 216.49 L75.00 216.80 L76.75 217.11 L78.50 217.42 L80.25 217.72 L82.00 218.02 L83.75 218.32 L85.50 218.62 L87.25 218.91 L89.00 219.20 L90.75 219.49 L92.50 219.78 L94.25 220.07 L96.00 220.35 L97.75 220.64 L99.50 220.92 L101.25 221.20 L103.00 221.47 L104.75 221.75 L106.50 222.02 L108.25 222.30 L110.00 222.57 L111.75 222.83 L113.50 223.10 L115.25 223.37 L117.00 223.63 L118.75 223.89 L120.50 224.15 L122.25 224.41 L124.00 224.67 L125.75 224.92 L127.50 225.17 L129.25 225.43 L131.00 225.68 L132.75 225.92 L134.50 226.17 L136.25 226.42 L138.00 226.66 L139.75 226.90 L141.50 227.14 L143.25 227.38 L145.00 227.62 L146.75 227.86 L148.50 228.10 L150.25 228.33 L152.00 228.56 L153.75 228.79 L155.50 229.02 L157.25 229.25 L159.00 229.48 L160.75 229.70 L162.50 229.93 L164.25 230.15 L166.00 230.37 L167.75 230.60 L169.50 230.81 L171.25 231.03 L173.00 231.25 L174.75 231.47 L176.50 231.68 L178.25 231.89 L180.00 232.11 L181.75 232.32 L183.50 232.53 L185.25 232.74 L187.00 232.94 L188.75 233.15 L190.50 233.36 L192.25 233.56 L194.00 233.76 L195.75 233.96 L197.50 234.17 L199.25 234.37 L201.00 234.56 L202.75 234.76 L204.50 234.96 L206.25 235.15 L208.00 235.35 L209.75 235.54 L211.50 235.74 L213.25 235.93 L215.00 236.12 L216.75 236.31 L218.50 236.50 L220.25 236.68 L222.00 236.87 L223.75 237.06 L225.50 237.24 L227.25 237.42 L229.00 237.61 L230.75 237.79 L232.50 237.97 L234.25 238.15 L236.00 238.33 L237.75 238.51 L239.50 238.69 L241.25 238.86 L243.00 239.04 L244.75 239.21 L246.50 239.39 L248.25 239.56 L250.00 239.73 L251.75 239.90 L253.50 240.08 L255.25 240.25 L257.00 240.41 L258.75 240.58 L260.50 240.75 L262.25 240.92 L264.00 241.08 L265.75 241.25 L267.50 241.41 L269.25 241.58 L271.00 241.74 L272.75 241.90 L274.50 242.06 L276.25 242.22 L278.00 242.38 L279.75 242.54 L281.50 242.70 L283.25 242.86 L285.00 243.01 L286.75 243.17 L288.50 243.33 L290.25 243.48 L292.00 243.64 L293.75 243.79 L295.50 243.94 L297.25 244.09 L299.00 244.25 L300.75 244.40 L302.50 244.55 L304.25 244.70 L306.00 244.84 L307.75 244.99 L309.50 245.14 L311.25 245.29 L313.00 245.43 L314.75 245.58 L316.50 245.72 L318.25 245.87 L320.00 246.01 L321.75 246.15 L323.50 246.30 L325.25 246.44 L327.00 246.58 L328.75 246.72 L330.50 246.86 L332.25 247.00 L334.00 247.14 L335.75 247.28 L337.50 247.41 L339.25 247.55 L341.00 247.69 L342.75 247.82 L344.50 247.96 L346.25 248.09 L348.00 248.23 L349.75 248.36 L351.50 248.50 L353.25 248.63 L355.00 248.76 L356.75 248.89 L358.50 249.02 L360.25 249.15 L362.00 249.28 L363.75 249.41 L365.50 249.54 L367.25 249.67 L369.00 249.80 L370.75 249.93 L372.50 250.05 L374.25 250.18 L376.00 250.31 L377.75 250.43 L379.50 250.56 L381.25 250.68 L383.00 250.80 L384.75 250.93 L386.50 251.05 L388.25 251.17 L390.00 251.30 L391.75 251.42 L393.50 251.54 L395.25 251.66 L397.00 251.78 L398.75 251.90 L400.50 252.02 L402.25 252.14 L404.00 252.26 L405.75 252.37 L407.50 252.49 L409.25 252.61 L411.00 252.72 L412.75 252.84 L414.50 252.96 L416.25 253.07 L418.00 253.19 L419.75 253.30 L421.50 253.42 L423.25 253.53 L425.00 253.64 L426.75 253.76 L428.50 253.87 L430.25 253.98 L432.00 254.09 L433.75 254.20 L435.50 254.31 L437.25 254.42 L439.00 254.53 L440.75 254.64 L442.50 254.75 L444.25 254.86 L446.00 254.97 L447.75 255.08 L449.50 255.19 L451.25 255.29 L453.00 255.40 L454.75 255.51 L456.50 255.61 L458.25 255.72 L460.00 255.82 L461.75 255.93 L463.50 256.03 L465.25 256.14 L467.00 256.24 L468.75 256.34 L470.50 256.45 L472.25 256.55 L474.00 256.65 L475.75 256.76 L477.50 256.86" fill="none" stroke="#ff0000" stroke-width="0.55"/>
<rect x="47.0" y="13.5" width="441.0" height="273.0" fill="none" stroke="#000" stroke-width="1"/>
<line x1="57.50" x2="57.50" y1="13.5" y2="16.3" stroke="#000"/>
<line x1="57.50" x2="57.50" y1="286.5" y2="283.7" stroke="#000"/>
<text class="m" y="7.90"><tspan x="54.29">5</tspan></text>
<text class="m" y="298.40"><tspan x="54.29">5</tspan></text>
<line x1="129.00" x2="129.00" y1="13.5" y2="16.3" stroke="#000"/>
<line x1="129.00" x2="129.00" y1="286.5" y2="283.7" stroke="#000"/>
<text class="m" y="7.90"><tspan x="116.16">6</tspan><tspan x="122.58">.</tspan><tspan class="z" x="129.24">0</tspan><tspan x="135.42">2</tspan></text>
<text class="m" y="298.40"><tspan x="116.16">6</tspan><tspan x="122.58">.</tspan><tspan class="z" x="129.24">0</tspan><tspan x="135.42">2</tspan></text>
<line x1="201.00" x2="201.00" y1="13.5" y2="16.3" stroke="#000"/>
<line x1="201.00" x2="201.00" y1="286.5" y2="283.7" stroke="#000"/>
<text class="m" y="7.90"><tspan x="188.16">7</tspan><tspan x="194.58">.</tspan><tspan class="z" x="201.24">0</tspan><tspan x="207.42">5</tspan></text>
<text class="m" y="298.40"><tspan x="188.16">7</tspan><tspan x="194.58">.</tspan><tspan class="z" x="201.24">0</tspan><tspan x="207.42">5</tspan></text>
<line x1="278.50" x2="278.50" y1="13.5" y2="16.3" stroke="#000"/>
<line x1="278.50" x2="278.50" y1="286.5" y2="283.7" stroke="#000"/>
<text class="m" y="7.90"><tspan x="265.66">8</tspan><tspan x="272.08">.</tspan><tspan x="278.50">1</tspan><tspan x="284.92">6</tspan></text>
<text class="m" y="298.40"><tspan x="265.66">8</tspan><tspan x="272.08">.</tspan><tspan x="278.50">1</tspan><tspan x="284.92">6</tspan></text>
<line x1="337.50" x2="337.50" y1="13.5" y2="16.3" stroke="#000"/>
<line x1="337.50" x2="337.50" y1="286.5" y2="283.7" stroke="#000"/>
<text class="m" y="7.90"><tspan x="334.29">9</tspan></text>
<text class="m" y="298.40"><tspan x="334.29">9</tspan></text>
<line x1="407.50" x2="407.50" y1="13.5" y2="16.3" stroke="#000"/>
<line x1="407.50" x2="407.50" y1="286.5" y2="283.7" stroke="#000"/>
<text class="m" y="7.90"><tspan x="401.08">1</tspan><tspan class="z" x="407.74">0</tspan></text>
<text class="m" y="298.40"><tspan x="401.08">1</tspan><tspan class="z" x="407.74">0</tspan></text>
<line x1="477.50" x2="477.50" y1="13.5" y2="16.3" stroke="#000"/>
<line x1="477.50" x2="477.50" y1="286.5" y2="283.7" stroke="#000"/>
<text class="m" y="7.90"><tspan x="471.08">1</tspan><tspan x="477.50">1</tspan></text>
<text class="m" y="298.40"><tspan x="471.08">1</tspan><tspan x="477.50">1</tspan></text>
<line x1="47.0" x2="49.8" y1="44.00" y2="44.00" stroke="#000"/>
<line x1="488.0" x2="485.2" y1="44.00" y2="44.00" stroke="#000"/>
<text class="m" y="47.30"><tspan x="28.66">5</tspan><tspan class="z" x="35.32">0</tspan></text>
<text class="m" y="47.30"><tspan x="493.00">5</tspan><tspan class="z" x="499.66">0</tspan></text>
<line x1="47.0" x2="49.8" y1="80.15" y2="80.15" stroke="#000"/>
<line x1="488.0" x2="485.2" y1="80.15" y2="80.15" stroke="#000"/>
<text class="m" y="83.45"><tspan x="28.66">4</tspan><tspan x="35.08">4</tspan></text>
<text class="m" y="83.45"><tspan x="493.00">4</tspan><tspan x="499.42">4</tspan></text>
<line x1="47.0" x2="49.8" y1="99.50" y2="99.50" stroke="#000"/>
<line x1="488.0" x2="485.2" y1="99.50" y2="99.50" stroke="#000"/>
<text class="m" y="102.80"><tspan x="15.82">4</tspan><tspan class="z" x="22.48">0</tspan><tspan x="28.66">.</tspan><tspan x="35.08">8</tspan></text>
<text class="m" y="102.80"><tspan x="493.00">4</tspan><tspan class="z" x="499.66">0</tspan><tspan x="505.84">.</tspan><tspan x="512.26">8</tspan></text>
<line x1="47.0" x2="49.8" y1="119.00" y2="119.00" stroke="#000"/>
<line x1="488.0" x2="485.2" y1="119.00" y2="119.00" stroke="#000"/>
<text class="m" y="122.30"><tspan x="15.82">3</tspan><tspan x="22.24">7</tspan><tspan x="28.66">.</tspan><tspan x="35.08">6</tspan></text>
<text class="m" y="122.30"><tspan x="493.00">3</tspan><tspan x="499.42">7</tspan><tspan x="505.84">.</tspan><tspan x="512.26">6</tspan></text>
<line x1="47.0" x2="49.8" y1="165.25" y2="165.25" stroke="#000"/>
<line x1="488.0" x2="485.2" y1="165.25" y2="165.25" stroke="#000"/>
<text class="m" y="168.55"><tspan x="28.66">3</tspan><tspan class="z" x="35.32">0</tspan></text>
<text class="m" y="168.55"><tspan x="493.00">3</tspan><tspan class="z" x="499.66">0</tspan></text>
<line x1="47.0" x2="49.8" y1="195.40" y2="195.40" stroke="#000"/>
<line x1="488.0" x2="485.2" y1="195.40" y2="195.40" stroke="#000"/>
<text class="m" y="198.70"><tspan x="28.66">2</tspan><tspan x="35.08">5</tspan></text>
<text class="m" y="198.70"><tspan x="493.00">2</tspan><tspan x="499.42">5</tspan></text>
<line x1="47.0" x2="49.8" y1="201.45" y2="201.45" stroke="#000"/>
<line x1="488.0" x2="485.2" y1="201.45" y2="201.45" stroke="#000"/>
<text class="m" y="204.75"><tspan x="28.66">2</tspan><tspan x="35.08">4</tspan></text>
<text class="m" y="204.75"><tspan x="493.00">2</tspan><tspan x="499.42">4</tspan></text>
<line x1="47.0" x2="49.8" y1="207.50" y2="207.50" stroke="#000"/>
<line x1="488.0" x2="485.2" y1="207.50" y2="207.50" stroke="#000"/>
<text class="m" y="210.80"><tspan x="28.66">2</tspan><tspan x="35.08">3</tspan></text>
<text class="m" y="210.80"><tspan x="493.00">2</tspan><tspan x="499.42">3</tspan></text>
<line x1="47.0" x2="49.8" y1="213.40" y2="213.40" stroke="#000"/>
<line x1="488.0" x2="485.2" y1="213.40" y2="213.40" stroke="#000"/>
<text class="m" y="216.70"><tspan x="28.66">2</tspan><tspan x="35.08">2</tspan></text>
<text class="m" y="216.70"><tspan x="493.00">2</tspan><tspan x="499.42">2</tspan></text>
<line x1="47.0" x2="49.8" y1="225.59" y2="225.59" stroke="#000"/>
<line x1="488.0" x2="485.2" y1="225.59" y2="225.59" stroke="#000"/>
<text class="m" y="228.89"><tspan x="28.66">2</tspan><tspan class="z" x="35.32">0</tspan></text>
<text class="m" y="228.89"><tspan x="493.00">2</tspan><tspan class="z" x="499.66">0</tspan></text>
<line x1="47.0" x2="49.8" y1="237.70" y2="237.70" stroke="#000"/>
<line x1="488.0" x2="485.2" y1="237.70" y2="237.70" stroke="#000"/>
<text class="m" y="241.00"><tspan x="28.66">1</tspan><tspan x="35.08">8</tspan></text>
<text class="m" y="241.00"><tspan x="493.00">1</tspan><tspan x="499.42">8</tspan></text>
<text class="m" y="137.50"><tspan x="67.79">2</tspan></text>
<text class="m" y="137.50"><tspan x="96.37">2</tspan><tspan x="102.79">.</tspan><tspan x="109.21">5</tspan></text>
<text class="m" y="137.50"><tspan x="166.79">3</tspan></text>
<text class="m" y="137.50"><tspan x="212.37">3</tspan><tspan x="218.79">.</tspan><tspan x="225.21">5</tspan></text>
<text class="m" y="137.50"><tspan x="252.16">3</tspan><tspan x="258.58">.</tspan><tspan x="265.00">9</tspan><tspan x="271.42">2</tspan></text>
<text class="m" y="137.50"><tspan x="299.37">4</tspan><tspan x="305.79">.</tspan><tspan x="312.21">5</tspan></text>
<text class="m" y="106.80"><tspan x="98.61">3</tspan><tspan x="105.03">7</tspan><tspan x="111.45">.</tspan><tspan x="117.87">6</tspan><tspan x="124.29">&lt;</tspan><tspan x="130.71">r</tspan><tspan x="137.13">&lt;</tspan><tspan x="143.55">4</tspan><tspan x="149.97">4</tspan></text>
<text class="m" y="236.00"><tspan x="92.19">1</tspan><tspan x="98.61">8</tspan><tspan x="105.03">.</tspan><tspan x="111.45">1</tspan><tspan x="117.87">&lt;</tspan><tspan x="124.29">R</tspan><tspan x="130.71">&lt;</tspan><tspan x="137.13">1</tspan><tspan x="143.55">9</tspan><tspan x="149.97">.</tspan><tspan x="156.39">7</tspan></text>
<text class="s" x="186.2" y="315.2">Down Quark Mass at 2 GeV in MeV</text>
<text class="s" transform="translate(10.9,239.6) rotate(-90)">R and r at constant Bottom Quark Mass</text>
</svg>
</body></html>
